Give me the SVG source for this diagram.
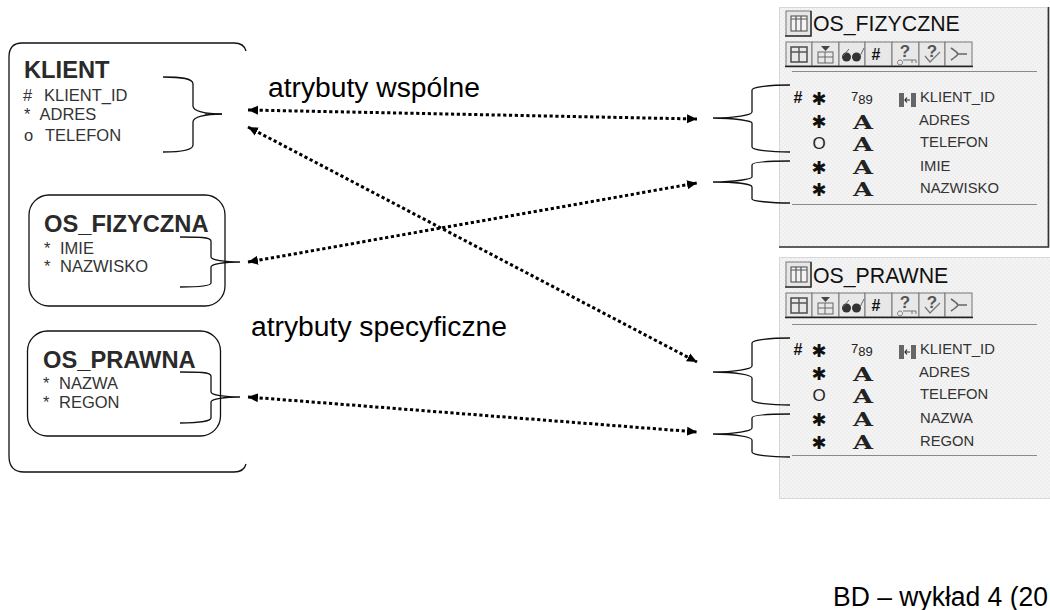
<svg xmlns="http://www.w3.org/2000/svg" width="1050" height="610" viewBox="0 0 1050 610">
<style>
text{font-family:"Liberation Sans",Arial,sans-serif;fill:#000}
.box{fill:none;stroke:#111;stroke-width:1.3}
.h{font-weight:bold;font-size:23.7px;fill:#2a2a2a}
.a{font-size:16.5px;fill:#333}
.lab{font-size:27px;fill:#000}
.t{font-size:21.3px;fill:#111}
.r{font-size:14.8px;fill:#333}
.g{font-family:"DejaVu Serif",serif;font-weight:bold;font-size:18.5px;fill:#222;text-anchor:middle}
.s{font-family:"DejaVu Sans",sans-serif;font-size:18px;fill:#111;text-anchor:middle}
.n{font-size:13px;fill:#222}
.o{font-size:17px;fill:#222;text-anchor:middle}
.hs{font-weight:bold;font-size:16px;fill:#111;text-anchor:middle}
.q{font-weight:bold;font-size:17px;fill:#555;text-anchor:middle}
.panel{fill:url(#dith);stroke:#d8d8d8;stroke-width:1}
.rule{stroke:#8a8a8a;stroke-width:1}
.btn{fill:#e8e8e8;stroke:#777;stroke-width:1}
.brace{fill:none;stroke:#111;stroke-width:1.3}
.dot{fill:none;stroke:#000;stroke-width:3;stroke-dasharray:3.2 2.6;marker-start:url(#ah);marker-end:url(#ah)}
</style>
<defs>
<pattern id="dith" width="4" height="4" patternUnits="userSpaceOnUse"><rect width="4" height="4" fill="#f4f4f4"/><rect width="2" height="2" fill="#eeeeee"/><rect x="2" y="2" width="2" height="2" fill="#eeeeee"/></pattern>
<marker id="ah" viewBox="0 0 10 10" markerWidth="10" markerHeight="10" refX="10" refY="5" orient="auto-start-reverse" markerUnits="userSpaceOnUse"><path d="M0 0.5L10 5L0 9.5Z" fill="#000"/></marker>
<g id="tb">
<rect class="btn" x="786" y="42" width="26" height="24"/><rect class="btn" x="812" y="42" width="27" height="24"/><rect class="btn" x="839" y="42" width="26" height="24"/><rect class="btn" x="865" y="42" width="27" height="24"/><rect class="btn" x="892" y="42" width="27" height="24"/><rect class="btn" x="919" y="42" width="26" height="24"/><rect class="btn" x="945" y="42" width="27" height="24"/>
<path d="M785 66.500H973" stroke="#222" stroke-width="1.6"/>
<rect x="786" y="11" width="25" height="25" fill="#e6e6e6" stroke="#777"/>
<path d="M811 11V36H785" fill="none" stroke="#333" stroke-width="1.5"/>
<rect x="791" y="16" width="16" height="15" fill="#f4f4f4" stroke="#444"/>
<path d="M791 19H807M796 16V31M801 16V31" stroke="#555" stroke-width="1.2" fill="none"/>
<rect x="791" y="47" width="16" height="15" fill="none" stroke="#555" stroke-width="1.6"/><path d="M791 52H807M799 47V62" stroke="#555" stroke-width="1.4"/>
<rect x="818" y="52" width="15" height="11" fill="none" stroke="#666"/><path d="M818 57H833M825 52V63" stroke="#666"/><path d="M821 46H830L825.500 51Z" fill="#444"/>
<ellipse cx="846.500" cy="57" rx="4.500" ry="4.500" fill="#333"/><ellipse cx="856.500" cy="57" rx="4.500" ry="4.500" fill="#333"/><path d="M843 56L849 49M860 56L864 48" stroke="#666" fill="none"/>
<path d="M900 60a2.500 2.500 0 1 0 .1 0M903 60H916V63M912 60V63" fill="none" stroke="#777"/>
<path d="M925 56L930 62L940 52" fill="none" stroke="#777" stroke-width="1.3"/>
<path d="M951 48Q957 52 958 54H967M951 60Q957 56 958 54" fill="none" stroke="#666" stroke-width="1.6"/>
</g>
<g id="key">
<rect x="899" y="93" width="5" height="14" fill="#666"/><rect x="911" y="93" width="5" height="14" fill="#666"/><path d="M910 100H905M907 97.500L905 100L907 102.500" fill="none" stroke="#222" stroke-width="1.2"/>
</g>
</defs>

<g id="connectors">
<path class="brace" d="M163 77C180 77 193 78 193 84V106C193 111 205 114 222 114C205 114 193 117 193 122V145C193 150 180 152 163 152"/>
<path d="M205 114H222" stroke="#111" stroke-width="1.2"/>
<path class="brace" d="M180 237C198 237 211 237 211 241V257C211 260 225 262 240 262C225 262 211 264 211 267V283C211 286 198 287 180 287"/>
<path class="brace" d="M180 372C198 372 211 372 211 376V392C211 395 225 397 240 397C225 397 211 399 211 402V418C211 421 198 423 180 423"/>
</g>

<g id="panel-os-fizyczne">
<rect class="panel" x="779.500" y="7.500" width="268" height="239.500"/>
<path d="M779 247H1048.500V7" fill="none" stroke="#333" stroke-width="1.6"/>
<use href="#tb"/>
<text class="t" x="813" y="31">OS_FIZYCZNE</text>
<text class="hs" x="876" y="60">#</text><text class="q" x="905" y="57">?</text><text class="q" x="932" y="57">?</text>
<path class="rule" d="M792 71.500H1037M792 204.500H1037"/>
<text class="hs" x="798" y="103">#</text>
<text class="s" x="819" y="105">✱</text><text class="s" x="819" y="128">✱</text><text class="s" x="819" y="174">✱</text><text class="s" x="819" y="196">✱</text>
<text class="o" x="819" y="149">O</text>
<text class="n" x="851" y="104"><tspan dy="-3">7</tspan><tspan dy="3">89</tspan></text>
<text class="g" x="863" y="129" textLength="20" lengthAdjust="spacingAndGlyphs">A</text><text class="g" x="863" y="151" textLength="20" lengthAdjust="spacingAndGlyphs">A</text><text class="g" x="863" y="174" textLength="20" lengthAdjust="spacingAndGlyphs">A</text><text class="g" x="863" y="196" textLength="20" lengthAdjust="spacingAndGlyphs">A</text>
<use href="#key"/>
<text class="r" x="920" y="102">KLIENT_ID</text><text class="r" x="919" y="125">ADRES</text><text class="r" x="920" y="147">TELEFON</text><text class="r" x="920" y="171">IMIE</text><text class="r" x="920" y="193">NAZWISKO</text>
</g>

<g id="panel-os-prawne">
<rect class="panel" x="779.500" y="257.500" width="272" height="241"/>
<use href="#tb" y="251"/>
<text class="t" x="813" y="283">OS_PRAWNE</text>
<text class="hs" x="876" y="311">#</text><text class="q" x="905" y="308">?</text><text class="q" x="932" y="308">?</text>
<path class="rule" d="M792 324.500H1037M792 455.500H1037"/>
<text class="hs" x="798" y="355">#</text>
<text class="s" x="819" y="357">✱</text><text class="s" x="819" y="380">✱</text><text class="s" x="819" y="426">✱</text><text class="s" x="819" y="449">✱</text>
<text class="o" x="819" y="401">O</text>
<text class="n" x="851" y="356"><tspan dy="-3">7</tspan><tspan dy="3">89</tspan></text>
<text class="g" x="863" y="381" textLength="20" lengthAdjust="spacingAndGlyphs">A</text><text class="g" x="863" y="403" textLength="20" lengthAdjust="spacingAndGlyphs">A</text><text class="g" x="863" y="426" textLength="20" lengthAdjust="spacingAndGlyphs">A</text><text class="g" x="863" y="449" textLength="20" lengthAdjust="spacingAndGlyphs">A</text>
<use href="#key" y="252"/>
<text class="r" x="920" y="354">KLIENT_ID</text><text class="r" x="919" y="377">ADRES</text><text class="r" x="920" y="399">TELEFON</text><text class="r" x="920" y="423">NAZWA</text><text class="r" x="920" y="446">REGON</text>
</g>

<g id="klient">
<path class="box" d="M246 51Q244 43 234 43H22Q9 43 9 57V456Q9 472 24 472H234Q244 472 246 464"/>
<text class="h" x="24" y="78">KLIENT</text>
<text class="a" x="23" y="101">#</text><text class="a" x="44" y="101">KLIENT_ID</text>
<text class="a" x="24" y="120">*</text><text class="a" x="39.500" y="120">ADRES</text>
<text class="a" x="24" y="141">o</text><text class="a" x="45" y="141">TELEFON</text>
</g>
<g id="os-fizyczna">
<rect class="box" x="29" y="195" width="196" height="111" rx="20"/>
<text class="h" x="44" y="232">OS_FIZYCZNA</text>
<text class="a" x="44" y="254">*</text><text class="a" x="60" y="254">IMIE</text>
<text class="a" x="44" y="272">*</text><text class="a" x="60" y="272">NAZWISKO</text>
</g>
<g id="os-prawna">
<rect class="box" x="27.500" y="331" width="193" height="105" rx="20"/>
<text class="h" x="43" y="368">OS_PRAWNA</text>
<text class="a" x="43" y="389">*</text><text class="a" x="59" y="389">NAZWA</text>
<text class="a" x="43" y="408">*</text><text class="a" x="59" y="408">REGON</text>
</g>

<g id="connectors-right">
<path class="brace" d="M790 85C770 85 752 87 752 90V112C752 115 735 118 713 118C735 118 752 121 752 123V147C752 150 770 152 790 152"/>
<path class="brace" d="M790 161C770 161 752 162 752 165V177C752 179 735 182 713 182C735 182 752 184 752 187V199C752 201 770 203 790 203"/>
<path class="brace" d="M790 338C770 338 752 340 752 343V366C752 369 735 372 713 372C735 372 752 375 752 378V400C752 403 770 405 790 405"/>
<path class="brace" d="M790 414C770 414 752 415 752 418V428C752 431 735 434 713 434C735 434 752 437 752 440V452C752 455 770 457 790 457"/>
<path class="dot" d="M248 110L697 119"/>
<path class="dot" d="M248 127L697 362"/>
<path class="dot" d="M248 262L697 183"/>
<path class="dot" d="M248 397L697 432"/>
</g>

<text class="lab" x="268" y="97" textLength="212" lengthAdjust="spacingAndGlyphs">atrybuty wspólne</text>
<text class="lab" x="251" y="336" textLength="256" lengthAdjust="spacingAndGlyphs">atrybuty specyficzne</text>
<text class="lab" x="833" y="606" textLength="215" lengthAdjust="spacingAndGlyphs">BD – wykład 4 (20</text>
</svg>
